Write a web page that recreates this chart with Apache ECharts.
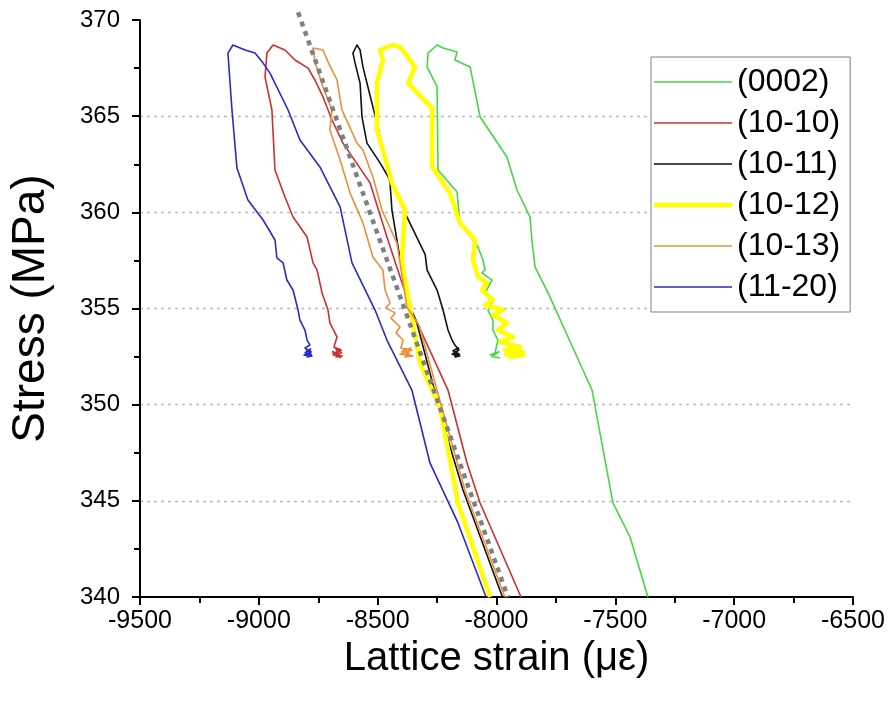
<!DOCTYPE html>
<html>
<head>
<meta charset="utf-8">
<script src="https://cdn.jsdelivr.net/npm/echarts@6/dist/echarts.min.js"></script>
<style>
html,body{margin:0;padding:0;background:#fff;}
#chart{width:890px;height:710px;}
</style>
</head>
<body>
<div id="chart"></div>
<script>
// ---- data (lattice strain in µε, stress in MPa) ----
const seriesNames = ['(0002)', '(10-10)', '(10-11)', '(10-12)', '(10-13)', '(11-20)'];
const xRange = [-9500, -6500];
const yRange = [340, 370];

const s0002 = [
  [-7363,340],[-7438,343.12],[-7510,344.89],[-7598,350.76],[-7661,352.48],[-7783,355.81],
  [-7838,357.16],[-7851,358.56],[-7859,359.76],[-7914,361.16],[-7956,362.88],[-8069,364.96],
  [-8111,367.56],[-8175,367.92],[-8166,368.34],[-8225,368.54],[-8250,368.7],
  [-8288,368.28],[-8292,367.56],[-8250,366.52],[-8246,362.2],[-8166,361.06],[-8154,359.45],
  [-8099,358.56],[-8078,358.2],[-8057,357.52],[-8048,357.0],[-8061,356.85],[-8019,356.48],
  [-8048,355.81],[-8019,355.29],[-8036,354.92],[-8015,354.4],[-8015,353.88],[-7994,353.36],
  [-8006,352.69],[-8027,352.58],[-7990,352.75],[-8020,352.5],[-7985,352.43]
];
const s1010 = [
  [-7897,340],[-8069,344.89],[-8124,346.97],[-8204,350.76],[-8364,355.08],[-8461,358.72],
  [-8532,361.53],[-8646,363.6],[-8692,364.8],[-8730,366.0],[-8764,366.88],[-8793,367.5],
  [-8848,367.92],[-8890,368.44],[-8940,368.7],
  [-8966,368.28],[-8974,367.04],[-8945,365.32],[-8932,362.2],[-8890,360.8],[-8856,359.76],
  [-8797,358.72],[-8772,357.37],[-8755,357.0],[-8734,355.81],[-8709,354.92],[-8701,354.25],
  [-8671,353.52],[-8684,353.0],[-8654,352.84],[-8688,352.63],[-8650,352.53],[-8675,352.48],
  [-8660,352.9],[-8684,352.55],[-8652,352.7],[-8678,352.95],[-8656,352.45],[-8690,352.75],
  [-8667,352.69]
];
const s1011 = [
  [-7975,340],[-8141,345.56],[-8225,349.05],[-8335,354.25],[-8364,355.08],[-8393,356.64],
  [-8440,360.12],[-8448,361.53],[-8490,363.92],[-8503,364.64],[-8541,366.52],[-8562,367.56],
  [-8574,368.44],[-8587,368.7],
  [-8604,368.28],[-8595,367.76],[-8574,366.72],[-8566,364.96],[-8545,363.6],[-8490,362.57],
  [-8448,361.68],[-8377,359.76],[-8300,357.8],[-8292,357.0],[-8250,355.96],[-8225,354.92],
  [-8204,353.88],[-8187,353.36],[-8175,353.1],[-8158,352.84],[-8187,352.63],[-8154,352.53],
  [-8175,352.48],[-8160,352.95],[-8183,352.8],[-8156,352.62],[-8178,352.58],[-8166,352.74]
];
const s1012 = [
  [-8027,340],[-8162,344.89],[-8238,349.88],[-8322,352.17],[-8377,355.96],[-8393,357.0],
  [-8398,357.52],[-8385,360.12],[-8440,361.53],[-8478,363.24],[-8503,364.28],[-8503,366.72],
  [-8478,367.92],[-8490,368.44],[-8436,368.7],
  [-8406,368.6],[-8343,367.56],[-8372,366.72],[-8271,365.42],[-8271,362.36],[-8196,361.0],
  [-8154,359.45],[-8090,358.56],[-8099,357.52],[-8078,356.64],[-8040,356.33],[-8061,355.96],
  [-8015,355.44],[-8048,355.18],[-7973,354.92],[-8015,354.66],[-7956,354.25],[-7994,353.88],
  [-7931,353.52],[-7985,353.26],[-7901,353.0],[-7964,352.84],[-7888,352.58],[-7943,352.48],
  [-7910,352.9],[-7960,352.62],[-7895,352.75],[-7935,352.55],[-7880,352.74]
];
const s1013 = [
  [-7965,340],[-8133,345.56],[-8212,349.05],[-8325,354.1],[-8377,355.08],[-8419,358.4],
  [-8482,360.12],[-8520,361.84],[-8562,363.24],[-8587,363.6],[-8650,365.32],[-8671,366.88],
  [-8709,367.82],[-8730,368.44],[-8772,368.54],
  [-8764,367.82],[-8730,366.52],[-8692,365.32],[-8701,364.28],[-8658,362.72],[-8616,361.0],
  [-8562,359.45],[-8520,357.68],[-8478,357.0],[-8469,355.96],[-8448,355.29],[-8465,355.03],
  [-8427,354.77],[-8444,354.5],[-8406,354.04],[-8423,353.73],[-8393,353.36],[-8402,352.95],
  [-8356,352.84],[-8406,352.63],[-8351,352.53],[-8385,352.48],[-8360,352.95],[-8398,352.78],
  [-8365,352.6],[-8390,352.9],[-8372,352.69]
];
const s1120 = [
  [-8044,340],[-8162,343.85],[-8280,346.97],[-8356,350.76],[-8461,353.36],[-8511,354.92],
  [-8608,357.37],[-8658,360.28],[-8743,362.36],[-8827,363.76],[-8877,365.32],[-8953,367.24],
  [-8982,367.76],[-9016,368.28],[-9058,368.44],[-9109,368.7],
  [-9130,368.28],[-9113,365.32],[-9092,362.3],[-9046,360.64],[-8982,359.6],[-8932,358.56],
  [-8924,357.63],[-8898,357.37],[-8882,356.48],[-8856,355.96],[-8835,354.92],[-8827,354.4],
  [-8806,353.88],[-8797,353.36],[-8785,353.1],[-8806,352.95],[-8780,352.74],[-8810,352.58],
  [-8776,352.53],[-8797,352.48],[-8782,352.9],[-8805,352.7],[-8779,352.6],[-8800,352.85],
  [-8789,352.69]
];
const fitLine = [[-8835,370.4],[-7952,340]];

const seriesData = [s0002, s1010, s1011, s1012, s1013, s1120];
const seriesColors = ['#44d944', '#cc3030', '#111111', '#ffff00', '#eb8f3a', '#2a2ac8'];
const seriesWidths = [1.6, 1.6, 1.6, 4.5, 1.6, 1.6];

const FONT = '"Liberation Sans", Arial, sans-serif';
const chart = echarts.init(document.getElementById('chart'), null, {renderer: 'canvas'});

const series = seriesNames.map((n, i) => ({
  name: n,
  type: 'line',
  data: seriesData[i],
  showSymbol: false,
  symbol: 'none',
  smooth: false,
  animation: false,
  color: seriesColors[i],
  lineStyle: {color: seriesColors[i], width: seriesWidths[i], join: 'round'},
  z: 2
}));
series.push({
  name: 'fit',
  type: 'line',
  data: fitLine,
  showSymbol: false,
  symbol: 'none',
  clip: false,
  animation: false,
  lineStyle: {color: '#808080', width: 4.5, type: [5, 5]},
  z: 3
});

const gridColors = ['rgba(0,0,0,0)', '#b8b8b8', '#b8b8b8', '#b8b8b8', '#b8b8b8', '#b8b8b8', 'rgba(0,0,0,0)'];

const legendData = seriesNames.map((n, i) => ({
  name: n,
  icon: 'path://M0,0H78V' + seriesWidths[i] + 'H0Z'
}));

chart.setOption({
  backgroundColor: '#fff',
  animation: false,
  grid: {left: 140, right: 37, top: 20, bottom: 113, containLabel: false},
  xAxis: {
    type: 'value', min: xRange[0], max: xRange[1], interval: 500,
    axisLine: {lineStyle: {color: '#000', width: 2}},
    axisTick: {length: 8, lineStyle: {color: '#000', width: 2}},
    minorTick: {show: true, splitNumber: 2, length: 6, lineStyle: {color: '#000', width: 2}},
    splitLine: {show: false},
    axisLabel: {fontSize: 25, color: '#000', fontFamily: FONT, margin: 12, formatter: v => String(v)},
    name: 'Lattice strain (με)', nameLocation: 'middle', nameGap: 36,
    nameTextStyle: {fontSize: 40, color: '#000', fontFamily: FONT}
  },
  yAxis: {
    type: 'value', min: yRange[0], max: yRange[1], interval: 5,
    axisLine: {show: true, lineStyle: {color: '#000', width: 2}},
    axisTick: {show: true, length: 8, lineStyle: {color: '#000', width: 2}},
    minorTick: {show: true, splitNumber: 2, length: 6, lineStyle: {color: '#000', width: 2}},
    splitLine: {show: true, lineStyle: {color: gridColors, width: 1.3, type: [3, 4]}},
    axisLabel: {fontSize: 24, color: '#000', fontFamily: FONT, margin: 20, formatter: v => String(v)},
    name: 'Stress (MPa)', nameLocation: 'middle', nameGap: 86,
    nameTextStyle: {fontSize: 46, color: '#000', fontFamily: FONT}
  },
  legend: {
    data: legendData,
    orient: 'vertical',
    left: 651, top: 57,
    padding: [9, 10, 9, 3],
    itemGap: 9,
    itemWidth: 78, itemHeight: 14,
    symbolKeepAspect: true,
    borderColor: '#808080', borderWidth: 1,
    backgroundColor: '#fff',
    textStyle: {fontSize: 32, color: '#000', fontFamily: FONT},
    selectedMode: false
  },
  series: series
});
</script>
</body>
</html>
